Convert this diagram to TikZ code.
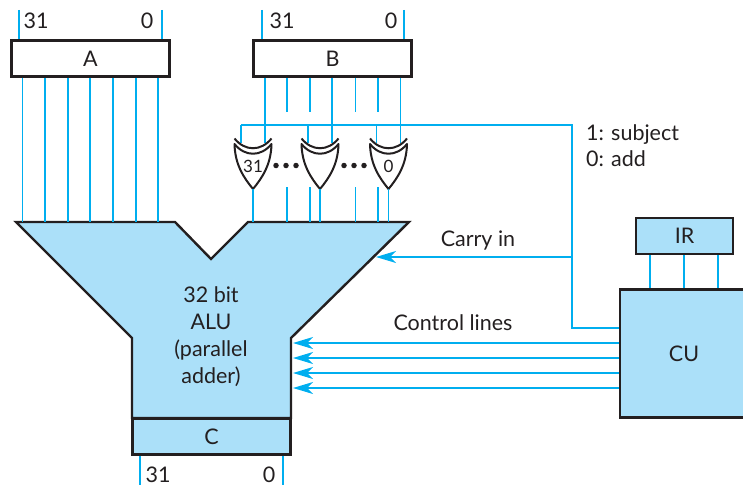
\documentclass[tikz,border=0pt]{standalone}
\usepackage{fontspec}
\setmainfont{Lato}
\usetikzlibrary{arrows.meta, positioning, calc}
\definecolor{cwire}{HTML}{00AEEF}
\definecolor{cfill}{HTML}{ABE0F9}
\definecolor{cdark}{HTML}{231F20}
\tikzset{
  every picture/.style={font=\fontsize{21.5}{25}\selectfont, text=cdark},
  regbox/.style={draw=cdark, fill=#1, line width=2.4pt, minimum width=158pt, minimum height=36pt, inner sep=0pt},
  regbox/.default=white,
  wire/.style={draw=cwire, line width=1.5pt},
  sig/.style={wire, -{Stealth[length=20pt, width=12pt, inset=6pt]}},
  dot/.style={circle, fill=cdark, inner sep=0pt, minimum size=5.5pt},
  gatetext/.style={font=\fontsize{17}{19}\selectfont},
  xorgate/.pic={
    \coordinate (-a) at (-12,143);
    \coordinate (-b) at (12,143);
    \coordinate (-out) at (0,189);
    \filldraw[draw=cdark, fill=white, line width=2pt, line join=round] (-18.5,144) .. controls (-8,157) and (8,157) .. (18.5,144)
      .. controls (18,165) and (9,178) .. (0,189) .. controls (-9,178) and (-18,165) .. (-18.5,144) -- cycle;
    \draw[draw=cdark, line width=2pt] (-18.5,138.5) .. controls (-8,151.5) and (8,151.5) .. (18.5,138.5);
  },
}

\begin{document}
\begin{tikzpicture}[x=1pt, y=-1pt]
  \useasboundingbox (0,0) rectangle (743,487);
  % registers
  \node[regbox] (regA) at (90.5,58.5) {A};
  \node[regbox] (regB) at (332.5,58.5) {B};
  \filldraw[draw=cdark, fill=cfill, line width=2.4pt, line join=miter] (16,222) -- (175,222) -- (211,259) -- (248,222) -- (409,222) -- (291,338) -- (291,418) -- (132,418) -- (132,338) -- cycle;
  \coordinate (aluT) at (211,222);
  \coordinate (aluE) at (293,360);
  \coordinate (aluD) at (376,257);
  \node[regbox=cfill] (regC) at (211.5,436.5) {C};
  \node[draw=cdark, fill=cfill, line width=2.4pt, minimum width=128pt, minimum height=128pt, inner sep=0pt] (cu) at (684,353.5) {CU};
  \node[draw=cdark, fill=cfill, line width=2.4pt, minimum width=97pt, minimum height=36pt, inner sep=0pt] (ir) at (684.5,236) {IR};
  \node[align=center] (alutext) at (211,336.5) {32 bit\\[2pt]ALU\\[2pt](parallel\\[2pt]adder)};
  % data lines
  \foreach \x in {22.5,45,68,90,113,136,158} \draw[wire] (\x,0 |- regA.south) -- (\x,0 |- aluT);
  \foreach \x in {19,162} \draw[wire] (\x,10) -- (\x,0 |- regA.north);
  \foreach \x in {262,404} \draw[wire] (\x,10) -- (\x,0 |- regB.north);
  \foreach \x in {140,283} \draw[wire] (\x,0 |- regC.south) -- (\x,485);
  \foreach \x in {287,310,355.5,378} {
    \draw[wire] (\x,0 |- regB.south) -- (\x,112);
    \draw[wire] (\x,187) -- (\x,0 |- aluT);
  }
  % gates
  \coordinate (bus) at (572,125);
  \foreach \n/\x in {g31/253, gm/320, g0/388.5} {
    \draw[wire] (\x-12,125) -- (\x-12,143);
    \draw[wire] (\x+12,0 |- regB.south) -- (\x+12,143);
    \pic (\n) at (\x,0) {xorgate};
    \draw[wire] (\n-out) -- (\n-out |- aluT);
  }
  \draw[wire] (cu.west |- 0,328) -| (bus) -- (g31-a |- bus);
  \node[gatetext] (t31) at (253,166) {31};
  \node[gatetext] (t0) at (388.5,166) {0};
  \foreach \x in {276,286,296,344,354,364} \node[dot] (d\x) at (\x,165.5) {};
  % control
  \draw[sig] (bus |- aluD) -- (aluD);
  \foreach \y in {343,358,373,388} \draw[sig] (cu.west |- 0,\y) -- (aluE |- 0,\y);
  \foreach \x in {650,684,718} \draw[wire] (\x,0 |- ir.south) -- (\x,0 |- cu.north);
  % labels
  \node (a31) at (36,21) {31};
  \node (a0) at (147,21) {0};
  \node (b31) at (282,21) {31};
  \node (b0) at (391,21) {0};
  \node (c31) at (158,475) {31};
  \node (c0) at (269,475) {0};
  \node[anchor=west] (sub) at (582.5,134.5) {1: subject};
  \node[anchor=west] (add) at (582.5,159) {0: add};
  \node (carry) at (478,240) {Carry in};
  \node (ctrl) at (453,323) {Control lines};
\end{tikzpicture}
\end{document}
